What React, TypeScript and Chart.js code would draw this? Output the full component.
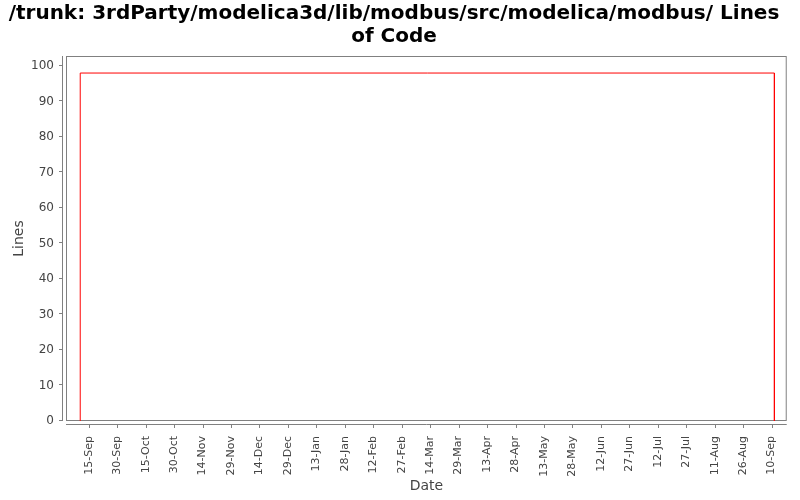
import { useEffect, useRef } from 'react';
import { Chart, registerables } from 'chart.js';

Chart.register(...registerables);

const titleLines = ['/trunk: 3rdParty/modelica3d/lib/modbus/src/modelica/modbus/ Lines', 'of Code'];

// x values are days counted from 15-Sep
const xTickDays = [0, 15, 30, 45, 60, 75, 90, 105, 120, 135, 150, 165, 180, 195, 210, 225, 240, 255, 270, 285, 300, 315, 330, 345, 360];
const xTickLabels = [
  '15-Sep', '30-Sep', '15-Oct', '30-Oct', '14-Nov', '29-Nov', '14-Dec', '29-Dec',
  '13-Jan', '28-Jan', '12-Feb', '27-Feb', '14-Mar', '29-Mar', '13-Apr', '28-Apr',
  '13-May', '28-May', '12-Jun', '27-Jun', '12-Jul', '27-Jul', '11-Aug', '26-Aug', '10-Sep',
];
const yTickValues = [0, 10, 20, 30, 40, 50, 60, 70, 80, 90, 100];

const lineDays = [-4.5, -4.5, 361.5, 361.5];
const lineValues = [0, 98, 98, 0];

const GRAY = '#808080';
const TEXT = '#444444';

const framePlugin = {
  id: 'frame',
  beforeDatasetsDraw(chart: any) {
    const { ctx, chartArea } = chart;
    const { left, right, top, bottom } = chartArea;
    const xs = chart.scales.x;
    const ys = chart.scales.y;
    ctx.save();
    ctx.strokeStyle = GRAY;
    ctx.lineWidth = 1;
    ctx.strokeRect(left + 0.5, top + 0.5, right - left - 1, bottom - top - 1);
    ctx.beginPath();
    ctx.moveTo(left - 3.5, top);
    ctx.lineTo(left - 3.5, bottom);
    for (const v of yTickValues) {
      const y = Math.round(ys.getPixelForValue(v)) - 0.5;
      ctx.moveTo(left - 7, y);
      ctx.lineTo(left - 3, y);
    }
    ctx.moveTo(left, bottom + 3.5);
    ctx.lineTo(right, bottom + 3.5);
    for (const d of xTickDays) {
      const x = Math.round(xs.getPixelForValue(d)) + 0.5;
      ctx.moveTo(x, bottom + 3);
      ctx.lineTo(x, bottom + 7);
    }
    ctx.stroke();
    ctx.restore();
  },
};

export default function App() {
  const ref = useRef<HTMLCanvasElement>(null);

  useEffect(() => {
    document.body.style.margin = '0';
    const canvas = ref.current;
    if (!canvas) return;
    const chart = new Chart(canvas, {
      type: 'line',
      data: {
        datasets: [
          {
            data: lineDays.map((d, i) => ({ x: d, y: lineValues[i] })),
            borderColor: '#ff0000',
            borderWidth: 1,
            pointRadius: 0,
            fill: false,
            tension: 0,
          },
        ],
      },
      options: {
        responsive: false,
        animation: false,
        devicePixelRatio: 1,
        layout: { padding: { left: 0, right: 12, top: 0, bottom: 0 } },
        plugins: {
          legend: { display: false },
          tooltip: { enabled: false },
          title: {
            display: true,
            text: titleLines,
            color: '#000000',
            font: { family: 'DejaVu Sans', size: 20, weight: 'bold', lineHeight: 1.15 },
            padding: { top: 2, bottom: 8 },
          },
        },
        scales: {
          x: {
            type: 'linear',
            min: -12,
            max: 368,
            afterBuildTicks: (scale: any) => {
              scale.ticks = xTickDays.map((v) => ({ value: v }));
            },
            afterFit: (scale: any) => {
              scale.height = 79;
            },
            grid: { display: false, drawTicks: false },
            border: { display: false },
            ticks: {
              autoSkip: false,
              maxRotation: 90,
              minRotation: 90,
              padding: 15,
              color: TEXT,
              font: { family: 'DejaVu Sans', size: 11 },
              callback: (v: any) => {
                const i = xTickDays.indexOf(Number(v));
                return i >= 0 ? xTickLabels[i] : '';
              },
            },
            title: {
              display: true,
              text: 'Date',
              color: TEXT,
              font: { family: 'DejaVu Sans', size: 14 },
              padding: { top: 0, bottom: 5 },
            },
          },
          y: {
            type: 'linear',
            min: 0,
            max: 102.8,
            afterBuildTicks: (scale: any) => {
              scale.ticks = yTickValues.map((v) => ({ value: v }));
            },
            afterFit: (scale: any) => {
              scale.width = 66;
            },
            grid: { display: false, drawTicks: false },
            border: { display: false },
            ticks: {
              padding: 12,
              color: TEXT,
              font: { family: 'DejaVu Sans', size: 12 },
            },
            title: {
              display: true,
              text: 'Lines',
              color: TEXT,
              font: { family: 'DejaVu Sans', size: 14 },
              padding: { top: 11, bottom: 0 },
            },
          },
        },
      },
      plugins: [framePlugin],
    });
    return () => chart.destroy();
  }, []);

  return (
    <div style={{ position: 'absolute', left: 0, top: 0, width: 800, height: 500, background: '#ffffff' }}>
      <canvas ref={ref} width={800} height={500} style={{ width: 800, height: 500 }} />
    </div>
  );
}
